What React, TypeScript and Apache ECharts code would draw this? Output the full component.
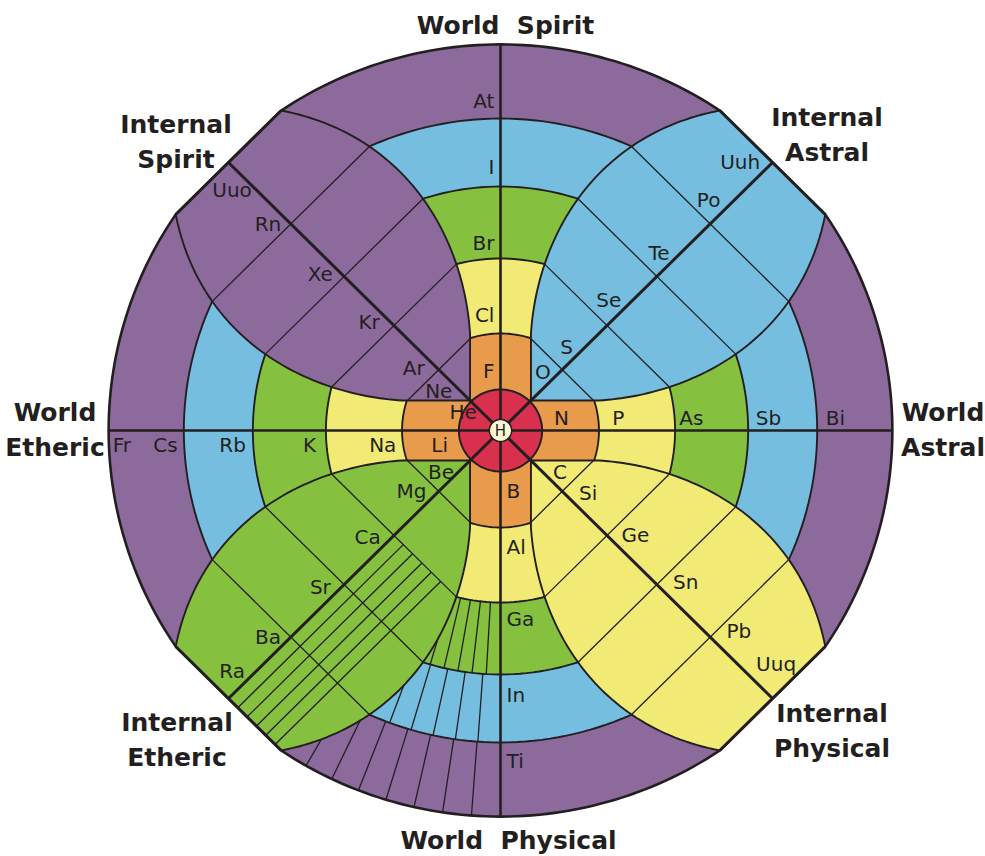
import React, { useEffect, useRef } from "react";
import * as echarts from "echarts";

type Pt = [number, number];

// ---------------- data ----------------
const CENTER_ELEMENT = "H";
const WORLD_SPIRIT = ["F", "Cl", "Br", "I", "At"];
const WORLD_ASTRAL = ["N", "P", "As", "Sb", "Bi"];
const WORLD_PHYSICAL = ["B", "Al", "Ga", "In", "Ti"];
const WORLD_ETHERIC = ["Li", "Na", "K", "Rb", "Cs", "Fr"];
const INTERNAL_ASTRAL = ["O", "S", "Se", "Te", "Po", "Uuh"];
const INTERNAL_PHYSICAL = ["C", "Si", "Ge", "Sn", "Pb", "Uuq"];
const INTERNAL_ETHERIC = ["Be", "Mg", "Ca", "Sr", "Ba", "Ra"];
const INTERNAL_SPIRIT = ["He", "Ne", "Ar", "Kr", "Xe", "Rn", "Uuo"];
const WORLD_TITLES = [["World  Spirit"], ["World", "Astral"], ["World  Physical"], ["World", "Etheric"]];
const INTERNAL_TITLES = [["Internal", "Astral"], ["Internal", "Physical"], ["Internal", "Etheric"], ["Internal", "Spirit"]];

// ---------------- layout & style ----------------
const W = 985;
const H = 856;
const CX = 500.5;
const CY = 430.5;
const SX = 1.015;
const INK = "#231F20";
const FONT = "'DejaVu Sans', Verdana, sans-serif";
// red core, orange, yellow, green, blue, purple
const RING_COLORS = ["#D8304D", "#E89B4A", "#F1EB76", "#85C13F", "#75BEE0", "#8D6A9C"];
const RING_R = [41, 97, 172, 244, 312, 386];
const H_R = 11;
const H_FILL = "#FDF8D4";
// arms: top (Spirit), right (Astral), bottom (Physical), left (Etheric)
const ARM_DIR: Pt[] = [[0, 1], [1, 0], [0, -1], [-1, 0]];
const ARM_ELEMENTS = [WORLD_SPIRIT, WORLD_ASTRAL, WORLD_PHYSICAL, WORLD_ETHERIC];
const ARM_LABEL_D = [60, 116, 188, 264, 330, 373];
const ARM_LABEL_GAP = [6, 13, 6, 14];
const ARM_LABEL_ALIGN = ["right", "center", "left", "center"];
// lobes: 0 top-right, 1 bottom-right, 2 bottom-left, 3 top-left
const LOBE_ELEMENTS = [INTERNAL_ASTRAL, INTERNAL_PHYSICAL, INTERNAL_ETHERIC, INTERNAL_SPIRIT];
const LOBE_COLORS = [RING_COLORS[4], RING_COLORS[2], RING_COLORS[3], RING_COLORS[5]];
const LOBE_LABEL_U = [39, 71, 105, 168, 236, 308, 357];
const LOBE_LABEL_V = [
  [12, 13, 17, 15, 18, 23],
  [12, 17, 20, 22, 24, 27],
  [-12, -19, -17, -15, -16, -17],
  [13, 15, 16, 15, 15, 16, 17],
];
// arm edge profile in (w across, d along) units
const EDGE_START: Pt = [30, 20];
const EDGE_BEZ: Pt[] = [[30, 97], [36, 190], [90, 295], [216, 320]];
// lanthanide/actinide fan
const FAN_LOBE = 2;
const FAN_ARM = 2;
const FAN_RINGS = [3, 4, 5];
const FAN_STEP_DEG = [3.3, 4.1, 4.25];
const FAN_LOBE_COUNT = 5;
const FAN_LOBE_SPACING = 13;
// titles (pixel positions)
const WORLD_TITLE_POS: Pt[] = [[505.5, 25], [943, 412], [508.5, 840], [55, 412]];
const INTERNAL_TITLE_POS: Pt[] = [[827, 117], [832, 713], [177, 722], [176, 124]];
const TITLE_LINE_H = 35;

// ---------------- geometry helpers ----------------
function bez(t: number): Pt {
  const [p0, p1, p2, p3] = EDGE_BEZ;
  const s = 1 - t;
  const a = s * s * s, b = 3 * s * s * t, c = 3 * s * t * t, d = t * t * t;
  return [a * p0[0] + b * p1[0] + c * p2[0] + d * p3[0], a * p0[1] + b * p1[1] + c * p2[1] + d * p3[1]];
}
const EDGE_PTS: Pt[] = [EDGE_START];
for (let i = 0; i <= 64; i++) EDGE_PTS.push(bez(i / 64));
const P3 = EDGE_BEZ[3];
const R_OUT = Math.hypot(P3[0], P3[1]);

function edgeAt(R: number): Pt {
  for (let i = 0; i < EDGE_PTS.length - 1; i++) {
    const a = EDGE_PTS[i], b = EDGE_PTS[i + 1];
    const r0 = Math.hypot(a[0], a[1]), r1 = Math.hypot(b[0], b[1]);
    if (R >= r0 && R <= r1) {
      const t = (R - r0) / (r1 - r0);
      return [a[0] + (b[0] - a[0]) * t, a[1] + (b[1] - a[1]) * t];
    }
  }
  return EDGE_PTS[EDGE_PTS.length - 1];
}
const perp = (a: Pt): Pt => [-a[1], a[0]];
function armPt(arm: number, side: number, wd: Pt): Pt {
  const a = ARM_DIR[arm], p = perp(a);
  return [wd[1] * a[0] + side * wd[0] * p[0], wd[1] * a[1] + side * wd[0] * p[1]];
}
function lobeDir(i: number): Pt {
  const a = ARM_DIR[i], b = ARM_DIR[(i + 1) % 4];
  const g: Pt = [a[0] + b[0], a[1] + b[1]];
  const n = Math.hypot(g[0], g[1]);
  return [g[0] / n, g[1] / n];
}
function lobePt(i: number, u: number, v: number): Pt {
  const g = lobeDir(i), q = perp(g);
  return [u * g[0] + v * q[0], u * g[1] + v * q[1]];
}
function circlePts(r: number, n = 240): Pt[] {
  const pts: Pt[] = [];
  for (let k = 0; k < n; k++) {
    const a = (k / n) * Math.PI * 2;
    pts.push([r * Math.cos(a), r * Math.sin(a)]);
  }
  return pts;
}
function outerBoundary(): Pt[] {
  const pts: Pt[] = [];
  for (let arm = 0; arm < 4; arm++) {
    const ccw = armPt(arm, 1, P3), cw = armPt(arm, -1, P3);
    const a0 = Math.atan2(ccw[1], ccw[0]);
    let a1 = Math.atan2(cw[1], cw[0]);
    while (a1 > a0) a1 -= Math.PI * 2;
    const N = 60;
    for (let k = 0; k <= N; k++) {
      const a = a0 + ((a1 - a0) * k) / N;
      pts.push([R_OUT * Math.cos(a), R_OUT * Math.sin(a)]);
    }
  }
  return pts;
}

// fan radial lines in the bottom arm (left half)
type FanLine = { rIn: number; rOut: number; ang: number };
const FAN_LINES: FanLine[] = [];
FAN_RINGS.forEach((ri, idx) => {
  const rIn = RING_R[ri - 1], rOut = ri === 5 ? R_OUT : RING_R[ri];
  const e = edgeAt(rOut);
  const maxAng = (Math.atan2(e[0], e[1]) * 180) / Math.PI - 0.8;
  for (let k = 1; k * FAN_STEP_DEG[idx] < maxAng; k++) {
    FAN_LINES.push({ rIn, rOut, ang: k * FAN_STEP_DEG[idx] });
  }
});

// labels
type Label = { name: string; pos: Pt; align: string; size: number };
const LABELS: Label[] = [];
ARM_ELEMENTS.forEach((els, arm) => {
  els.forEach((name, j) => {
    LABELS.push({ name, pos: armPt(arm, 1, [ARM_LABEL_GAP[arm], ARM_LABEL_D[j]]), align: ARM_LABEL_ALIGN[arm], size: 20 });
  });
});
LOBE_ELEMENTS.forEach((els, li) => {
  const us = els.length === 7 ? LOBE_LABEL_U : LOBE_LABEL_U.slice(1);
  els.forEach((name, j) => {
    LABELS.push({ name, pos: lobePt(li, us[j], LOBE_LABEL_V[li][j]), align: "center", size: 20 });
  });
});
LABELS.push({ name: CENTER_ELEMENT, pos: [0, 0], align: "center", size: 15 });

const seg = (p: number[], q: number[], lw: number) => ({
  type: "line",
  shape: { x1: p[0], y1: p[1], x2: q[0], y2: q[1] },
  style: { stroke: INK, lineWidth: lw, fill: null },
});

function buildOption() {
  const xMin = -CX / SX, xMax = (W - CX) / SX;
  const yMin = -(H - CY), yMax = CY;
  const ringOrder = [5, 4, 3, 2, 1];
  const graphic: any[] = [];
  const addTitle = (lines: string[], pos: Pt) => {
    lines.forEach((t, k) => {
      graphic.push({
        type: "text",
        x: pos[0],
        y: pos[1] + k * TITLE_LINE_H,
        silent: true,
        style: {
          text: t,
          font: `bold 25px ${FONT}`,
          fill: INK,
          textAlign: "center",
          textVerticalAlign: "middle",
          align: "center",
          verticalAlign: "middle",
        },
      });
    });
  };
  WORLD_TITLES.forEach((t, i) => addTitle(t, WORLD_TITLE_POS[i]));
  INTERNAL_TITLES.forEach((t, i) => addTitle(t, INTERNAL_TITLE_POS[i]));

  const base = { type: "custom", coordinateSystem: "cartesian2d", silent: true, clip: false };
  return {
    animation: false,
    backgroundColor: "#ffffff",
    tooltip: { show: false },
    grid: { left: 0, right: 0, top: 0, bottom: 0 },
    xAxis: { type: "value", min: xMin, max: xMax, show: false },
    yAxis: { type: "value", min: yMin, max: yMax, show: false },
    graphic,
    series: [
      {
        ...base,
        name: "rings",
        z: 1,
        data: ringOrder.map(() => [0, 0]),
        renderItem: (params: any, api: any) => {
          const ring = ringOrder[params.dataIndex];
          const pts = ring === 5 ? outerBoundary() : circlePts(RING_R[ring]);
          return {
            type: "polygon",
            z2: 10 - ring,
            shape: { points: pts.map((p) => api.coord(p)) },
            style: { fill: RING_COLORS[ring], stroke: INK, lineWidth: ring === 5 ? 2.6 : 1.9 },
          };
        },
      },
      {
        ...base,
        name: "fan",
        z: 2,
        data: FAN_LINES.map(() => [0, 0]),
        renderItem: (params: any, api: any) => {
          const f = FAN_LINES[params.dataIndex];
          const a = (f.ang * Math.PI) / 180;
          const d = ARM_DIR[FAN_ARM], p = perp(d);
          // CW side of the arm
          const dir: Pt = [Math.cos(a) * d[0] - Math.sin(a) * p[0], Math.cos(a) * d[1] - Math.sin(a) * p[1]];
          return seg(api.coord([dir[0] * f.rIn, dir[1] * f.rIn]), api.coord([dir[0] * f.rOut, dir[1] * f.rOut]), 1.3);
        },
      },
      {
        ...base,
        name: "lobes",
        z: 3,
        data: LOBE_ELEMENTS.map(() => [0, 0]),
        renderItem: (params: any, api: any) => {
          const i = params.dataIndex;
          const A = i, B = (i + 1) % 4;
          const c = (p: Pt) => api.coord(p);
          const sideA = EDGE_PTS.map((e) => armPt(A, -1, e));
          const sideB = EDGE_PTS.map((e) => armPt(B, 1, e));
          const poly = [...sideA, ...sideB.slice().reverse()];
          const children: any[] = [
            { type: "polygon", shape: { points: poly.map(c) }, style: { fill: LOBE_COLORS[i], stroke: INK, lineWidth: 1.9 } },
          ];
          const e2 = edgeAt(RING_R[2]);
          const uStart = (e2[0] + e2[1]) / Math.SQRT2;
          const uEnd = (P3[0] + P3[1]) / Math.SQRT2;
          if (i === FAN_LOBE) {
            for (let j = 1; j <= FAN_LOBE_COUNT; j++) {
              const v = j * FAN_LOBE_SPACING;
              children.push(seg(c(lobePt(i, uStart, v)), c(lobePt(i, uEnd, v)), 1.3));
            }
          }
          for (const R of RING_R.slice(1, 5)) {
            const e = edgeAt(R);
            children.push(seg(c(armPt(A, -1, e)), c(armPt(B, 1, e)), 1.3));
          }
          children.push(seg(c(sideA[sideA.length - 1]), c(sideB[sideB.length - 1]), 3));
          return { type: "group", children };
        },
      },
      {
        ...base,
        name: "core",
        z: 4,
        data: [[0, 0]],
        renderItem: (params: any, api: any) => {
          const c = (p: Pt) => api.coord(p);
          const children: any[] = [
            { type: "polygon", shape: { points: circlePts(RING_R[0]).map(c) }, style: { fill: RING_COLORS[0], stroke: INK, lineWidth: 2 } },
            seg(c([0, R_OUT]), c([0, -R_OUT]), 2.6),
            seg(c([-R_OUT, 0]), c([R_OUT, 0]), 2.6),
          ];
          for (let i = 0; i < 4; i++) {
            const u = (P3[0] + P3[1]) / Math.SQRT2;
            children.push(seg(c([0, 0]), c(lobePt(i, u, 0)), 3));
          }
          children.push({ type: "polygon", shape: { points: circlePts(H_R, 60).map(c) }, style: { fill: H_FILL, stroke: INK, lineWidth: 1.5 } });
          return { type: "group", children };
        },
      },
      {
        ...base,
        name: "labels",
        z: 5,
        data: LABELS.map(() => [0, 0]),
        renderItem: (params: any, api: any) => {
          const l = LABELS[params.dataIndex];
          const p = api.coord(l.pos);
          return {
            type: "text",
            x: p[0],
            y: p[1],
            style: {
              text: l.name,
              font: `${l.size}px ${FONT}`,
              fill: INK,
              textAlign: l.align,
              textVerticalAlign: "middle",
              align: l.align,
              verticalAlign: "middle",
            },
          };
        },
      },
    ],
  };
}

export default function App() {
  const ref = useRef<HTMLDivElement>(null);
  useEffect(() => {
    if (!ref.current) return;
    const chart = echarts.init(ref.current, undefined, { renderer: "svg" });
    chart.setOption(buildOption() as any);
    return () => chart.dispose();
  }, []);
  return <div ref={ref} style={{ position: "absolute", left: 0, top: 0, width: W, height: H, background: "#ffffff" }} />;
}
